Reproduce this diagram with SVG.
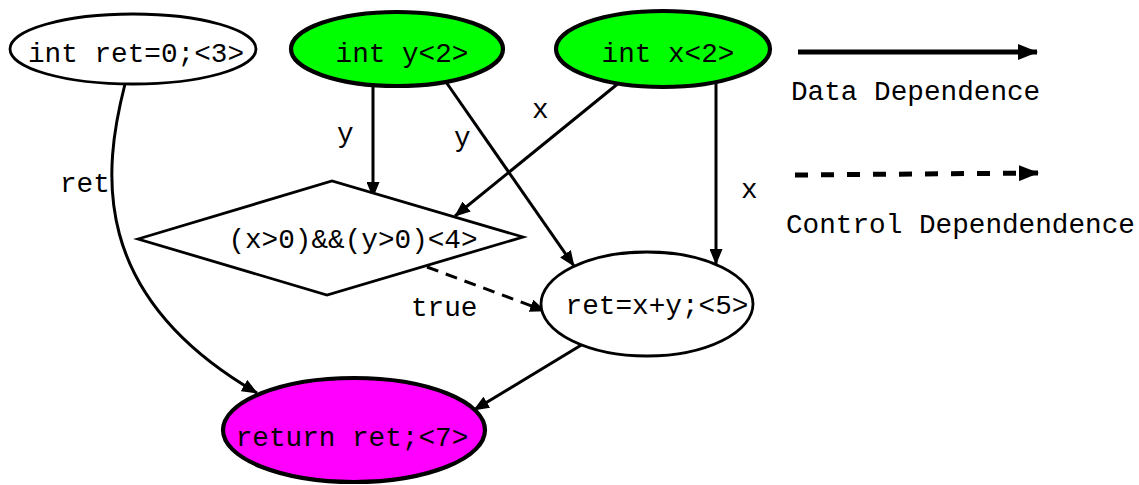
<svg xmlns="http://www.w3.org/2000/svg" width="1139" height="485" viewBox="0 0 1139 485">
  <style>
    text { font-family: "Liberation Mono", "Courier New", monospace; font-size: 27.7px; fill: #000; }
    .node { stroke: #000; stroke-width: 2.8; fill: #fff; }
    .entry { fill: #00ff00; stroke-width: 4.2; }
    .exit { fill: #ff00ff; stroke-width: 4.2; }
    .edge { fill: none; stroke: #000; stroke-width: 3; }
    .ctrl { stroke-dasharray: 12 8; }
    .key { stroke-width: 5; }
    .keyctrl { stroke-dasharray: 13 13; }
    .mid { text-anchor: middle; }
  </style>
  <defs>
    <marker id="arrow" viewBox="0 0 16 13" refX="15" refY="6.5" markerWidth="16" markerHeight="13" markerUnits="userSpaceOnUse" orient="auto">
      <path d="M0,0 L16,6.5 L0,13 Z" fill="#000"/>
    </marker>
    <marker id="bigarrow" viewBox="0 0 20 16" refX="19" refY="8" markerWidth="20" markerHeight="16" markerUnits="userSpaceOnUse" orient="auto">
      <path d="M0,0 L20,8 L0,16 Z" fill="#000"/>
    </marker>
  </defs>

  <!-- dependence edges -->
  <g id="edges">
    <path class="edge" d="M125,84 C103,170 88,295 257,393" marker-end="url(#arrow)"/>
    <text x="60" y="192">ret</text>
    <path class="edge" d="M373,85 L373,197" marker-end="url(#arrow)"/>
    <text x="337" y="142">y</text>
    <path class="edge" d="M446,82 L574,266" marker-end="url(#arrow)"/>
    <text x="454" y="146">y</text>
    <path class="edge" d="M620,82 L455,216" marker-end="url(#arrow)"/>
    <text x="532" y="118">x</text>
    <path class="edge" d="M716,83 L716,264" marker-end="url(#arrow)"/>
    <text x="741" y="198">x</text>
    <path class="edge ctrl" d="M427,267 L545,311" marker-end="url(#arrow)"/>
    <text x="411" y="316">true</text>
    <path class="edge" d="M583,344 L474,410" marker-end="url(#arrow)"/>
  </g>

  <g id="n3">
    <ellipse class="node" cx="133" cy="49" rx="123" ry="35"/>
    <text class="mid" x="136" y="62">int ret=0;&lt;3&gt;</text>
  </g>
  <g id="n2y">
    <ellipse class="node entry" cx="397" cy="49" rx="106" ry="37"/>
    <text class="mid" x="402" y="62">int y&lt;2&gt;</text>
  </g>
  <g id="n2x">
    <ellipse class="node entry" cx="663" cy="49" rx="107" ry="38"/>
    <text class="mid" x="668" y="62">int x&lt;2&gt;</text>
  </g>
  <g id="n4">
    <polygon class="node" points="138,239 332,181 523,237 327,295"/>
    <text class="mid" x="353" y="248">(x&gt;0)&amp;&amp;(y&gt;0)&lt;4&gt;</text>
  </g>
  <g id="n5">
    <ellipse class="node" cx="647" cy="304" rx="106" ry="52"/>
    <text class="mid" x="657" y="314">ret=x+y;&lt;5&gt;</text>
  </g>
  <g id="n7">
    <ellipse class="node exit" cx="354" cy="430" rx="131" ry="52"/>
    <text class="mid" x="352" y="446">return ret;&lt;7&gt;</text>
  </g>

  <!-- legend -->
  <g id="legend">
    <path class="edge key" d="M798,52 L1037,52" marker-end="url(#bigarrow)"/>
    <text x="791" y="100">Data Dependence</text>
    <path class="edge key keyctrl" d="M795,175 L1038,173" marker-end="url(#bigarrow)"/>
    <text x="786" y="233">Control Dependendence</text>
  </g>
</svg>
